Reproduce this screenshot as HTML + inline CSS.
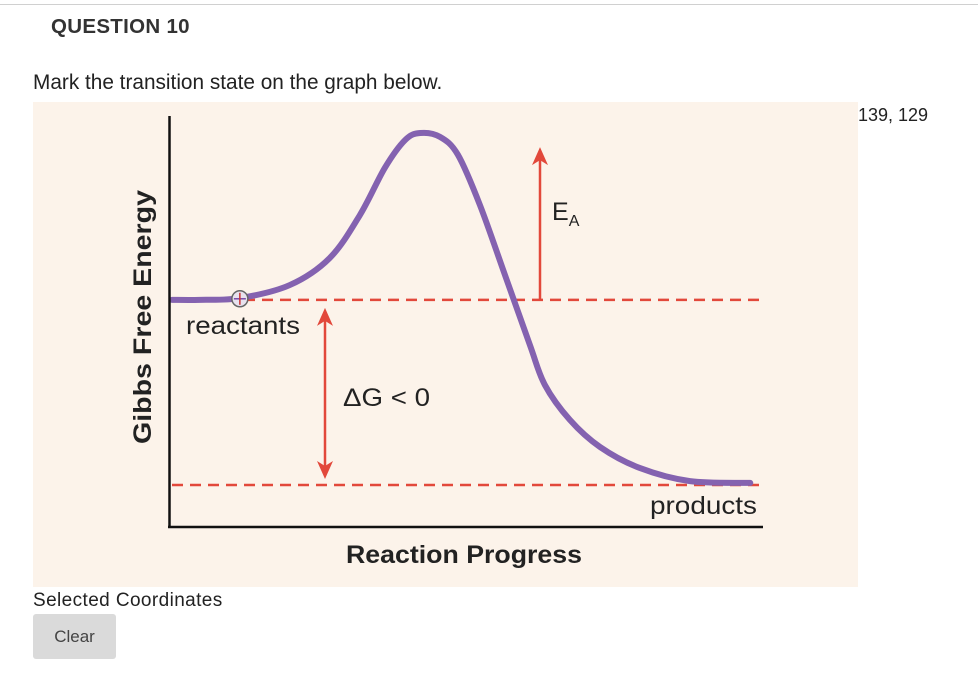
<!DOCTYPE html>
<html><head><meta charset="utf-8"><style>
body{margin:0;width:978px;height:694px;background:#fff;position:relative;overflow:hidden;font-family:"Liberation Sans","DejaVu Sans",sans-serif;}
.t{position:absolute;white-space:nowrap;}
</style></head><body>
<div style="position:absolute;left:0;top:4px;width:978px;height:1px;background:#d0d0d0"></div>
<div class="t" style="left:51px;top:15px;font-size:20.5px;letter-spacing:0.3px;font-weight:bold;color:#333">QUESTION 10</div>
<div class="t" style="left:33px;top:71px;font-size:20.8px;color:#222">Mark the transition state on the graph below.</div>
<div class="t" style="left:858px;top:105px;font-size:18px;color:#222">139, 129</div>
<svg style="position:absolute;left:33px;top:102px" width="825" height="485" viewBox="33 102 825 485">
<rect x="33" y="102" width="825" height="485" fill="#fcf3ea"/>
<g id="marks"></g>
<line x1="169.5" y1="116" x2="169.5" y2="527" stroke="#111" stroke-width="2.5"/>
<line x1="168" y1="527" x2="763" y2="527" stroke="#111" stroke-width="2.5"/>
<text x="186" y="334" font-size="25" textLength="114" lengthAdjust="spacingAndGlyphs" fill="#222">reactants</text>
<text x="343" y="406" font-size="25" textLength="87" lengthAdjust="spacingAndGlyphs" fill="#222">ΔG &lt; 0</text>
<text x="552" y="220" font-size="25" fill="#222">E<tspan font-size="16" dy="6">A</tspan></text>
<text x="650" y="514" font-size="25" textLength="107" lengthAdjust="spacingAndGlyphs" fill="#222">products</text>
<text x="346" y="563" font-size="25" textLength="236" lengthAdjust="spacingAndGlyphs" font-weight="bold" fill="#222">Reaction Progress</text>
<text x="0" y="0" font-size="25" textLength="254" lengthAdjust="spacingAndGlyphs" font-weight="bold" fill="#222" text-anchor="middle" transform="translate(151,317) rotate(-90)">Gibbs Free Energy</text>
</svg>
<div class="t" style="left:33px;top:590px;font-size:19px;letter-spacing:0.4px;color:#222">Selected Coordinates</div>
<div style="position:absolute;left:33px;top:614px;width:83px;height:45px;background:#dadada;border-radius:3px;color:#444;font-size:17px;line-height:45px;text-align:center">Clear</div>
<script>
const progress=[0,4.8,11.7,20.3,27.2,32.4,36.7,40.2,42.8,46.2,49.3,53.1,57.4,61.7,64.3,68.6,73.8,80.7,89.3,99.7];
const energy=[52.6,52.6,53.1,56.8,64.5,76.7,90.1,98.0,100,98.9,93.8,79.5,59.7,39.8,28.4,18.5,10.8,4.8,1.1,0.6];
const reactantLevel=[52.6];
const productLevel=[0];
const activationTop=[96];
const marker=[[11.7,52.9]];
const xs=v=>172+v*5.8;
const ys=v=>485-v*3.52;
const NS='http://www.w3.org/2000/svg';
const g=document.getElementById('marks');
function mk(tag,attrs){const e=document.createElementNS(NS,tag);for(const k in attrs)e.setAttribute(k,attrs[k]);g.appendChild(e);return e;}
const red='#e2483b';
let l1=mk('line',{x1:xs(0),y1:ys(reactantLevel[0]),x2:763,y2:ys(reactantLevel[0]),stroke:red,'stroke-width':2.5,'stroke-dasharray':'11 7'});


let l2=mk('line',{x1:172,y1:ys(productLevel[0]),x2:763,y2:ys(productLevel[0]),stroke:red,'stroke-width':2.5,'stroke-dasharray':'11 7'});


const ex=540,eyb=ys(reactantLevel[0]),eyt=ys(activationTop[0]);
let a1=mk('line',{x1:ex,y1:eyb,x2:ex,y2:eyt+10,stroke:red,'stroke-width':2.5});


let h1=mk('polygon',{points:`${ex-8},${eyt+18} ${ex},${eyt} ${ex+8},${eyt+18} ${ex},${eyt+13}`,fill:red});


const dx=325,dyt=ys(reactantLevel[0])+8,dyb=ys(productLevel[0])-6;
let a2=mk('line',{x1:dx,y1:dyt+8,x2:dx,y2:dyb-8,stroke:red,'stroke-width':2.5});


let h2=mk('polygon',{points:`${dx-8},${dyt+18} ${dx},${dyt} ${dx+8},${dyt+18} ${dx},${dyt+13}`,fill:red});


let h3=mk('polygon',{points:`${dx-8},${dyb-18} ${dx},${dyb} ${dx+8},${dyb-18} ${dx},${dyb-13}`,fill:red});


const P=progress.map((p,i)=>[xs(p),ys(energy[i])]);
let d=`M${P[0][0]},${P[0][1]}`;
for(let i=0;i<P.length-1;i++){const p0=P[Math.max(0,i-1)],p1=P[i],p2=P[i+1],p3=P[Math.min(P.length-1,i+2)];
d+=` C${p1[0]+(p2[0]-p0[0])/6},${p1[1]+(p2[1]-p0[1])/6} ${p2[0]-(p3[0]-p1[0])/6},${p2[1]-(p3[1]-p1[1])/6} ${p2[0]},${p2[1]}`;}
let c=mk('path',{d:d,fill:'none',stroke:'#8462b0','stroke-width':6,'stroke-linecap':'round'});


const mx=xs(marker[0][0]),my=ys(marker[0][1]);
let m=mk('circle',{cx:mx,cy:my,r:8,fill:'#e8e2ee',stroke:'#666','stroke-width':1.5});


let m1=mk('line',{x1:mx-6,y1:my,x2:mx+6,y2:my,stroke:'#7a4aa8','stroke-width':1.5});


let m2=mk('line',{x1:mx,y1:my-6,x2:mx,y2:my+6,stroke:'#c33','stroke-width':1.5});


</script>
</body></html>
